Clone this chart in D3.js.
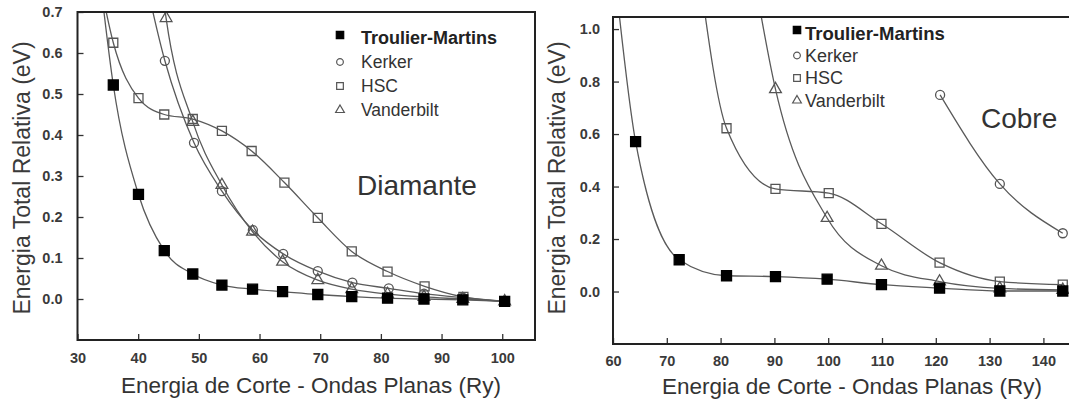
<!DOCTYPE html>
<html>
<head>
<meta charset="utf-8">
<script src="https://cdn.jsdelivr.net/npm/d3@7"></script>
<style>
  html, body { margin: 0; padding: 0; background: #fff; }
  svg { display: block; }
  text { font-family: "Liberation Sans", Arial, Helvetica, sans-serif; }
</style>
</head>
<body>
<svg id="chart" width="1069" height="403"></svg>
<script>
// Relative total energy (eV) vs. plane-wave cutoff (Ry) for four pseudopotentials.
// Each series is a list of [cutoff, energy] pairs.

// --- Diamante ---
const diamanteTM = [[33.5,0.81],[35.9,0.522],[40.05,0.255],[44.3,0.118],[49.0,0.061],[53.8,0.034],[58.85,0.024],[63.8,0.018],[69.6,0.011],[75.2,0.006],[81.1,0.002],[87.1,0.0],[93.5,-0.002],[100.4,-0.006]];
const diamanteKerker = [[40.05,0.86],[44.4,0.581],[49.2,0.381],[53.8,0.263],[58.9,0.168],[63.9,0.11],[69.6,0.068],[75.3,0.04],[81.3,0.026],[87.1,0.013],[93.5,0.003],[100.4,-0.006]];
const diamanteHSC = [[33.5,0.79],[35.9,0.625],[40.05,0.49],[44.3,0.45],[49.0,0.439],[53.8,0.41],[58.7,0.361],[64.1,0.284],[69.6,0.198],[75.2,0.116],[81.1,0.067],[87.2,0.031],[93.6,0.005],[100.4,-0.006]];
const diamanteVanderbilt = [[42.5,0.95],[44.6,0.685],[49.0,0.432],[53.8,0.278],[58.85,0.164],[63.8,0.091],[69.6,0.046],[75.2,0.024],[81.1,0.012],[87.1,0.005],[93.5,0.0],[100.4,-0.006]];

// --- Cobre ---
const cobreTM = [[60.5,1.18],[64.2,0.571],[72.3,0.121],[81.1,0.06],[90.2,0.057],[99.8,0.047],[109.9,0.026],[120.7,0.013],[131.9,0.002],[143.6,0.002]];
const cobreKerker = [[120.8,0.749],[131.9,0.41],[143.6,0.222]];
const cobreHSC = [[76,1.22],[81.1,0.622],[90.2,0.391],[100.1,0.375],[109.9,0.258],[120.7,0.11],[131.9,0.038],[143.6,0.026]];
const cobreVanderbilt = [[85,1.35],[90.2,0.771],[99.8,0.28],[109.9,0.098],[120.7,0.038],[131.9,0.012],[143.6,0.006]];

// Tick values
const diamanteXTicks = [30, 40, 50, 60, 70, 80, 90, 100];
const diamanteYTicks = [0.0, 0.1, 0.2, 0.3, 0.4, 0.5, 0.6, 0.7];
const cobreXTicks = [60, 70, 80, 90, 100, 110, 120, 130, 140];
const cobreYTicks = [0.0, 0.2, 0.4, 0.6, 0.8, 1.0];

const seriesNames = ["Troulier-Martins", "Kerker", "HSC", "Vanderbilt"];
const xTitle = "Energia de Corte - Ondas Planas (Ry)";
const yTitle = "Energia Total Relativa (eV)";

const svg = d3.select("#chart");

const markerStyle = {
  "Troulier-Martins": { type: d3.symbolSquare, size: 100, fill: "#000", stroke: "#000" },
  "Kerker":           { type: d3.symbolCircle, size: 64,  fill: "none", stroke: "#555" },
  "HSC":              { type: d3.symbolSquare, size: 81,  fill: "none", stroke: "#555" },
  "Vanderbilt":       { type: d3.symbolTriangle, size: 60, fill: "none", stroke: "#555" }
};

function panel(cfg) {
  const x = d3.scaleLinear().domain(cfg.xDomain).range([cfg.left, cfg.right]);
  const y = d3.scaleLinear().domain(cfg.yDomain).range([cfg.bottom, cfg.top]);
  const g = svg.append("g");

  const clipId = "clip-" + cfg.id;
  svg.append("clipPath").attr("id", clipId)
    .append("rect")
    .attr("x", cfg.left).attr("y", cfg.top)
    .attr("width", cfg.right - cfg.left).attr("height", cfg.bottom - cfg.top);

  // Axes with inward ticks
  const yAxis = d3.axisLeft(y).tickValues(cfg.yTicks).tickFormat(d3.format(".1f"))
    .tickSize(-6).tickPadding(cfg.yPad);
  const xAxis = d3.axisBottom(x).tickValues(cfg.xTicks).tickFormat(d3.format("d"))
    .tickSize(-6).tickPadding(cfg.xPad);

  const ya = g.append("g").attr("transform", `translate(${cfg.left},0)`).call(yAxis);
  const xa = g.append("g").attr("transform", `translate(0,${cfg.bottom})`).call(xAxis);
  [ya, xa].forEach(a => {
    a.select(".domain").remove();
    a.selectAll(".tick line").attr("stroke", "#333").attr("stroke-width", 1.3);
    a.selectAll(".tick text")
      .attr("fill", "#3a3a3a").attr("font-size", 14.5).attr("font-weight", "bold")
      .attr("font-family", "'Liberation Sans', Arial, sans-serif");
  });

  // Curves and markers
  const plot = g.append("g").attr("clip-path", `url(#${clipId})`);
  const line = d3.line().x(d => x(d[0])).y(d => y(d[1])).curve(d3.curveMonotoneX);
  const order = ["Vanderbilt", "Kerker", "HSC", "Troulier-Martins"];
  order.forEach(name => {
    plot.append("path").datum(cfg.series[name])
      .attr("d", line).attr("fill", "none")
      .attr("stroke", "#5a5a5a").attr("stroke-width", 1.3);
  });
  order.forEach(name => {
    const st = markerStyle[name];
    plot.selectAll(null).data(cfg.series[name]).join("path")
      .attr("transform", d => `translate(${x(d[0])},${y(d[1])})`)
      .attr("d", d3.symbol().type(st.type).size(st.size))
      .attr("fill", st.fill).attr("stroke", st.stroke).attr("stroke-width", 1.3);
  });

  // Frame
  g.append("rect")
    .attr("x", cfg.left).attr("y", cfg.top)
    .attr("width", cfg.right - cfg.left).attr("height", cfg.bottom - cfg.top)
    .attr("fill", "none").attr("stroke", "#222").attr("stroke-width", 2);

  // Axis titles
  g.append("text")
    .attr("x", cfg.xTitleX).attr("y", cfg.xTitleY)
    .attr("text-anchor", "middle").attr("dominant-baseline", "central")
    .attr("font-size", 22.5).attr("fill", "#333").text(xTitle);
  g.append("text")
    .attr("transform", `translate(${cfg.yTitleX},${cfg.yTitleY}) rotate(-90)`)
    .attr("text-anchor", "middle").attr("dominant-baseline", "central")
    .attr("font-size", 23).attr("fill", "#3a3a3a").text(yTitle);

  // Material label
  g.append("text")
    .attr("x", cfg.nameX).attr("y", cfg.nameY)
    .attr("font-size", 28).attr("fill", "#333").text(cfg.name);

  // Legend
  const lg = g.append("g");
  seriesNames.forEach((name, i) => {
    const st = markerStyle[name];
    const yy = cfg.legY + i * cfg.legStep;
    lg.append("path")
      .attr("transform", `translate(${cfg.legMarkX},${yy + (i === 0 ? -3 : 0)})`)
      .attr("d", d3.symbol().type(st.type).size(st.size * 0.55))
      .attr("fill", st.fill).attr("stroke", st.stroke).attr("stroke-width", 1.2);
    lg.append("text")
      .attr("x", cfg.legTextX).attr("y", yy)
      .attr("dominant-baseline", "central")
      .attr("font-size", i === 0 ? cfg.legFont + 0.5 : cfg.legFont)
      .attr("font-weight", i === 0 ? "bold" : "normal")
      .attr("fill", i === 0 ? "#222" : "#333")
      .text(name);
  });
}

panel({
  id: "diamante", name: "Diamante",
  xDomain: [30, 105.4], yDomain: [-0.1, 0.7],
  left: 77.5, right: 535, top: 12, bottom: 340,
  xTicks: diamanteXTicks, yTicks: diamanteYTicks, xPad: 13, yPad: 15,
  series: { "Troulier-Martins": diamanteTM, "Kerker": diamanteKerker, "HSC": diamanteHSC, "Vanderbilt": diamanteVanderbilt },
  xTitleX: 311, xTitleY: 385, yTitleX: 22, yTitleY: 178,
  nameX: 357, nameY: 195,
  legMarkX: 340, legTextX: 361, legY: 38, legStep: 24, legFont: 17.5
});

panel({
  id: "cobre", name: "Cobre",
  xDomain: [60, 146], yDomain: [-0.2, 1.046],
  left: 613, right: 613 + 86 * 5.38, top: 17, bottom: 344,
  xTicks: cobreXTicks, yTicks: cobreYTicks, xPad: 12, yPad: 13,
  series: { "Troulier-Martins": cobreTM, "Kerker": cobreKerker, "HSC": cobreHSC, "Vanderbilt": cobreVanderbilt },
  xTitleX: 852, xTitleY: 386, yTitleX: 557, yTitleY: 178,
  nameX: 981, nameY: 128,
  legMarkX: 797, legTextX: 805, legY: 33, legStep: 22.5, legFont: 18
});
</script>
</body>
</html>
